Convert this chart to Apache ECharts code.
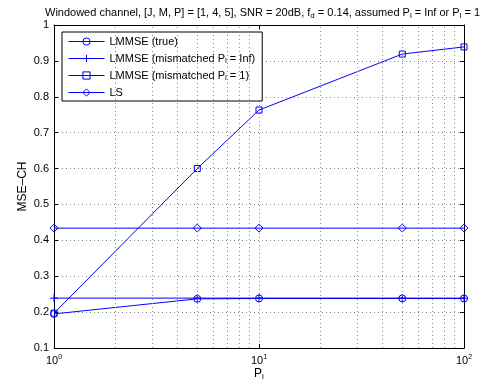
<!DOCTYPE html>
<html>
<head>
<meta charset="utf-8">
<script src="https://cdn.jsdelivr.net/npm/echarts@6/dist/echarts.min.js"></script>
<style>
  html, body { margin: 0; padding: 0; background: #fff; }
  #chart { width: 486px; height: 385px; }
</style>
</head>
<body>
<div id="chart"></div>
<script>
// data
var pl = [1, 5, 10, 50, 100];
var lmmseTrue = [0.195, 0.237, 0.238, 0.238, 0.238];
var lmmseInf = [0.239, 0.239, 0.239, 0.239, 0.239];
var lmmseOne = [0.197, 0.600, 0.763, 0.919, 0.939];
var lsVals = [0.434, 0.434, 0.434, 0.434, 0.434];
var minorX = [2, 3, 4, 5, 6, 7, 8, 9, 20, 30, 40, 50, 60, 70, 80, 90];
var names = [
  "LMMSE (true)",
  "LMMSE (mismatched P{sub|l} = Inf)",
  "LMMSE (mismatched P{sub|l} = 1)",
  "LS"
];

var font = "Liberation Sans, Arial, Helvetica, sans-serif";
var blue = "#0000ff";

function pairs(ys) {
  return pl.map(function (x, i) { return [x, ys[i]]; });
}

var chart = echarts.init(document.getElementById("chart"));

var gridDots = { color: "#8a8a8a", type: [1, 3], width: 1 };

function lineSeries(name, ys, symbol, size, extra) {
  var s = {
    type: "line",
    name: name,
    data: pairs(ys),
    symbol: symbol,
    symbolSize: size,
    showAllSymbol: true,
    animation: false,
    lineStyle: { color: blue, width: 1 },
    itemStyle: { color: "rgba(0,0,0,0)", borderColor: blue, borderWidth: 1 },
    emphasis: { disabled: true }
  };
  return Object.assign(s, extra || {});
}

var option = {
  animation: false,
  textStyle: { fontFamily: font },
  title: {
    text: "Windowed channel, [J, M, P] = [1, 4, 5], SNR = 20dB, f{sub|d} = 0.14, assumed P{sub|l} = Inf or P{sub|l} = 1",
    left: 40,
    top: 1,
    textStyle: {
      fontFamily: font,
      fontSize: 11,
      fontWeight: "normal",
      color: "#000",
      lineHeight: 14,
      rich: {
        sub: { fontSize: 8, lineHeight: 7, verticalAlign: "bottom", fontFamily: font, color: "#000" }
      }
    }
  },
  legend: {
    orient: "vertical",
    left: 62,
    top: 32,
    padding: [3, 7, 2, 6],
    itemGap: 4,
    itemWidth: 36,
    itemHeight: 9,
    backgroundColor: "#fff",
    borderColor: "#000",
    borderWidth: 1,
    selectedMode: false,
    data: names,
    lineStyle: { width: 1 },
    itemStyle: { borderWidth: 1 },
    textStyle: {
      fontFamily: font,
      fontSize: 11,
      color: "#000",
      lineHeight: 13,
      rich: {
        sub: { fontSize: 8, lineHeight: 7, verticalAlign: "bottom", fontFamily: font, color: "#000" }
      }
    }
  },
  grid: { left: 54, right: 22, top: 25, bottom: 37, outerBoundsMode: "none", containLabel: false },
  xAxis: [
    {
      type: "log",
      logBase: 10,
      min: 1,
      max: 100,
      name: "P{sub|l}",
      nameLocation: "middle",
      nameGap: 19,
      nameMoveOverlap: false,
      nameTextStyle: {
        fontFamily: font,
        fontSize: 12,
        color: "#000",
        lineHeight: 14,
        rich: {
          sub: { fontSize: 8, lineHeight: 8, verticalAlign: "bottom", fontFamily: font, color: "#000" }
        }
      },
      axisLine: { lineStyle: { color: "#000", width: 1 } },
      axisTick: { inside: true, length: 4, lineStyle: { color: "#000" } },
      axisLabel: {
        margin: 6,
        fontFamily: font,
        fontSize: 11,
        color: "#000",
        lineHeight: 14,
        formatter: function (v) {
          return "10{sup|" + Math.round(Math.log10(v)) + "}";
        },
        rich: {
          sup: { fontSize: 7, lineHeight: 8, verticalAlign: "top", fontFamily: font, color: "#000" }
        }
      },
      splitLine: { show: true, lineStyle: gridDots }
    },
    {
      type: "log",
      logBase: 10,
      min: 1,
      max: 100,
      position: "top",
      axisLine: { lineStyle: { color: "#000", width: 1 } },
      axisTick: { inside: true, length: 4, lineStyle: { color: "#000" } },
      axisLabel: { show: false },
      splitLine: { show: false }
    }
  ],
  yAxis: [
    {
      type: "value",
      min: 0.1,
      max: 1,
      interval: 0.1,
      name: "MSE\u2013CH",
      nameLocation: "middle",
      nameGap: 25,
      nameMoveOverlap: false,
      nameTextStyle: { fontFamily: font, fontSize: 12, color: "#000" },
      axisLine: { show: true, lineStyle: { color: "#000", width: 1 } },
      axisTick: { show: true, inside: true, length: 4, lineStyle: { color: "#000" } },
      axisLabel: { margin: 5, fontFamily: font, fontSize: 11, color: "#000" },
      splitLine: { show: true, lineStyle: gridDots }
    },
    {
      type: "value",
      min: 0.1,
      max: 1,
      interval: 0.1,
      position: "right",
      axisLine: { show: true, lineStyle: { color: "#000", width: 1 } },
      axisTick: { show: true, inside: true, length: 4, lineStyle: { color: "#000" } },
      axisLabel: { show: false },
      splitLine: { show: false }
    }
  ],
  series: [
    lineSeries(names[0], lmmseTrue, "circle", 7, {
      markLine: {
        silent: true,
        symbol: ["none", "none"],
        animation: false,
        label: { show: false },
        lineStyle: gridDots,
        emphasis: { disabled: true },
        data: minorX.map(function (v) { return { xAxis: v }; })
      }
    }),
    lineSeries(names[1], lmmseInf, "path://M0,5L10,5M5,0L5,10", 8),
    lineSeries(names[2], lmmseOne, "rect", 6),
    lineSeries(names[3], lsVals, "diamond", 8)
  ]
};

chart.setOption(option);
</script>
</body>
</html>
